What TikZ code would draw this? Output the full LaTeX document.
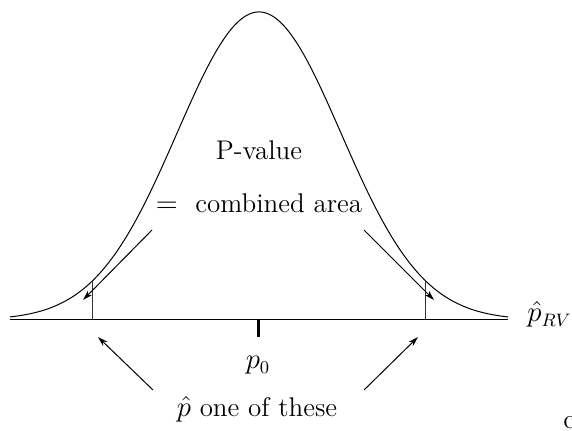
\documentclass[tikz,border=0pt]{standalone}
\usetikzlibrary{arrows.meta}

\begin{document}
\begin{tikzpicture}[x=0.5pt, y=-0.5pt, >={Stealth[length=5pt,width=3pt]},
    font=\fontsize{13.5}{16}\selectfont]
  \useasboundingbox (0,0) rectangle (572,431);

  % Axis
  \draw[line width=0.5pt] (10,320) -- (508,320);
  \node[anchor=base west, inner sep=0pt] (prv) at (527,322) {$\hat{p}_{RV}$};

  % Normal curve
  \draw[line width=0.5pt, domain=10:508, samples=220]
    plot (\x,{320-308*exp(-0.5*((\x-259)/82)^2)});

  % Tail cut-offs
  \draw[line width=0.5pt, black!80] (92,320) -- (92,{320-308*exp(-0.5*(167/82)^2)});
  \draw[line width=0.5pt, black!80] (425,320) -- (425,{320-308*exp(-0.5*(166/82)^2)});

  % Centre tick
  \draw[line width=1.5pt] (258,320) -- (258,337);
  \node[anchor=base, inner sep=0pt] (pzero) at (258,369) {$p_0$};

  % Labels
  \node[anchor=base, inner sep=0pt] (pval) at (259,160) {P-value};
  \node[anchor=base, inner sep=0pt] (area) at (259,213) {$=$\ \ combined area};
  \node[anchor=base, inner sep=0pt] (phat) at (257,417) {$\hat{p}$ one of these};
  \node[anchor=base west, inner sep=0pt] (cut) at (563,429) {c};

  % Arrows to the tails
  \coordinate (lt) at (83,300);
  \coordinate (rt) at (434,300);
  \draw[->, line width=0.5pt] (152,230) -- (lt);
  \draw[->, line width=0.5pt] (364,230) -- (rt);

  % Arrows to the axis
  \coordinate (lb) at (98,337);
  \coordinate (rb) at (418,337);
  \draw[->, line width=0.5pt] (153,390) -- (lb);
  \draw[->, line width=0.5pt] (364,390) -- (rb);
\end{tikzpicture}
\end{document}
